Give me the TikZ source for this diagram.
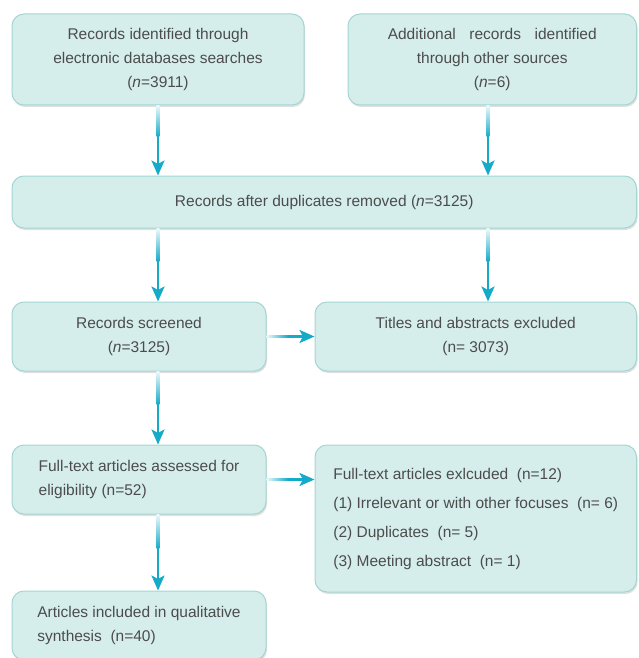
\documentclass[tikz,border=0pt]{standalone}
\usepackage{fontspec}
\setmainfont{Liberation Sans}
\usepackage{tikz}
\usetikzlibrary{calc, arrows.meta, shadows}

\definecolor{boxfill}{HTML}{D5EEEC}
\definecolor{boxline}{HTML}{A3D6D2}
\definecolor{arrowc}{HTML}{14AAC8}
\definecolor{txt}{HTML}{4C4C4C}

\begin{document}
\begin{tikzpicture}[x=1pt, y=-1pt,
    box/.style={draw=boxline, line width=1pt, fill=boxfill, rounded corners=12pt,
        text=txt, font=\fontsize{15.5}{24}\selectfont, inner sep=0pt,
        drop shadow={shadow xshift=1pt, shadow yshift=-2pt, opacity=0.12, fill=black}},
    arr/.style={draw=arrowc, line width=2.5pt, -{Stealth[length=15pt, width=13pt, inset=3.5pt]}},
]
    \useasboundingbox (0, 0) rectangle (638, 658);
    % 箭头所在竖线
    \coordinate (L) at (158, 0);
    \coordinate (R) at (488, 0);

    % 识别
    \node [box, align=center, minimum width=292, minimum height=91] (ident) at (158, 59.5)
        {Records identified through\\electronic databases searches\\(\textit{n}=3911)};
    \node [box, align=center, minimum width=288.5, minimum height=91] (other) at (492.25, 59.5)
        {\makebox[209pt][s]{Additional records identified}\\through other sources\\(\textit{n}=6)};
    % 去重
    \node [box, align=center, minimum width=624.5, minimum height=52] (dup) at (324.25, 202)
        {Records after duplicates removed (\textit{n}=3125)};
    % 筛选
    \node [box, align=center, minimum width=254, minimum height=69] (screen) at (139, 336.5)
        {Records screened\\(\textit{n}=3125)};
    \node [box, align=center, minimum width=321.5, minimum height=69] (titles) at (475.75, 336.5)
        {Titles and abstracts excluded\\(n=\ 3073)};
    % 全文
    \node [box, align=left, minimum width=254, minimum height=69] (full) at (139, 479.5)
        {Full-text articles assessed for\\eligibility (n=52)};
    \node [box, align=left, minimum width=321.5, minimum height=147,
        font=\fontsize{15.5}{29}\selectfont] (fullex) at (475.75, 518.5)
        {Full-text articles exlcuded\ \ (n=12)\\
         (1) Irrelevant or with other focuses\ \ (n=\ 6)\\
         (2) Duplicates\ \ (n=\ 5)\\
         (3) Meeting abstract\ \ (n=\ 1)};
    % 纳入
    \node [box, align=left, minimum width=254, minimum height=69] (incl) at (139, 625.5)
        {Articles included in qualitative\\synthesis\ \ (n=40)};

    % 竖直连线 (起点渐变)
    \foreach \x/\a/\b in {L/ident/dup, R/other/dup, L/dup/screen, R/dup/titles, L/screen/full, L/full/incl} {
        \draw [arr] (\x |- \a.south) -- (\x |- \b.north);
        \shade [top color=arrowc!8, bottom color=arrowc]
            ($(\x |- \a.south) + (-1.3, 0)$) rectangle ($(\x |- \a.south)!0.45!(\x |- \b.north) + (1.3, 0)$);
    }
    % 水平连线
    \foreach \a/\b in {screen/titles, full/fullex} {
        \draw [arr] (\a.east) -- (\a.east -| \b.west);
        \shade [left color=arrowc!8, right color=arrowc]
            ($(\a.east) + (0, -1.3)$) rectangle ($(\a.east)!0.45!(\a.east -| \b.west) + (0, 1.3)$);
    }
\end{tikzpicture}
\end{document}
